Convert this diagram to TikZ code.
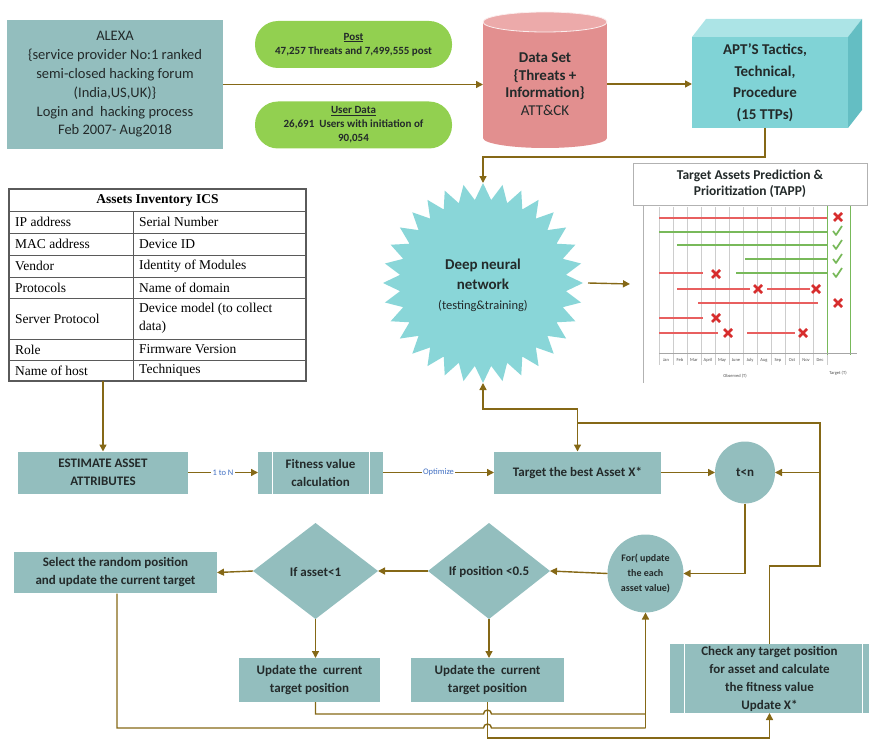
\documentclass[tikz,border=0pt]{standalone}
\usepackage{fontspec}
\setmainfont{Carlito}
\newfontfamily\tabfont{Liberation Serif}
\usetikzlibrary{arrows.meta,shapes.geometric}
\definecolor{procfill}{RGB}{147,190,190}
\definecolor{linecol}{RGB}{133,104,22}
\definecolor{pillgreen}{RGB}{146,208,80}
\definecolor{cylpink}{RGB}{226,143,143}
\definecolor{cyltop}{RGB}{236,170,170}
\definecolor{cubefront}{RGB}{128,211,214}
\definecolor{cubetop}{RGB}{172,228,230}
\definecolor{cubeside}{RGB}{100,190,195}
\definecolor{burstcol}{RGB}{137,214,216}
\definecolor{txt}{RGB}{35,42,42}
\definecolor{lblblue}{RGB}{68,114,196}
\definecolor{segred}{RGB}{232,95,95}
\definecolor{crossred}{RGB}{215,45,45}
\definecolor{seggreen}{RGB}{120,185,90}
\definecolor{gridgray}{RGB}{205,205,205}
\definecolor{tabline}{RGB}{90,90,90}
\tikzset{
  xm/.pic={\draw[draw=crossred,line width=2.6pt] (-4,-4) -- (4,4) (-4,4) -- (4,-4);},
  ck/.pic={\draw[draw=seggreen,line width=1.7pt,line join=round] (-4,0) -- (-1,4) -- (5,-5);}
}
\begin{document}
\begin{tikzpicture}[x=1pt,y=-1pt,
  conn/.style={draw=linecol,line width=1.4pt,-{Triangle[length=7pt,width=7pt]}},
  wire/.style={draw=linecol,line width=1.4pt},
  proc/.style={fill=procfill,text=txt,font=\bfseries\fontsize{13}{18}\selectfont,align=center,inner sep=0pt,outer sep=0pt},
  pill/.style={fill=pillgreen,rounded corners=23pt,text=txt,align=center,inner sep=0pt,outer sep=0pt,font=\bfseries\fontsize{11}{14}\selectfont},
  cell/.style={anchor=west,inner sep=0pt,text=black,font=\tabfont\fontsize{13.5}{18}\selectfont},
  lbl/.style={fill=white,text=lblblue,inner sep=1.5pt,font=\fontsize{8.5}{10}\selectfont},
  redseg/.style={draw=segred,line width=1.3pt},
  greenseg/.style={draw=seggreen,line width=1.1pt},
  tiny/.style={inner sep=0pt,text=black!70,font=\fontsize{4.5}{5}\selectfont}
]
\useasboundingbox (0,0) rectangle (870,741);

% ---------- top row ----------
\node[fill=procfill,text=txt,align=center,inner sep=0pt,outer sep=0pt,
      minimum width=216pt,minimum height=129pt,font=\fontsize{14.5}{18.8}\selectfont]
  (alexa) at (115,84.5) {ALEXA\\\{service provider No:1 ranked\\semi-closed hacking forum\\(India,US,UK)\}\\Login and~ hacking process\\Feb 2007- Aug2018};

\node[pill,minimum width=197pt,minimum height=47pt] (post) at (353.5,44.5)
  {\underline{Post}\\47,257 Threats and 7,499,555 post};
\node[pill,minimum width=197pt,minimum height=47pt] (udata) at (353.5,125)
  {\underline{User Data}\\26,691~ Users with initiation of\\90,054};

% cylinder
\fill[cylpink] (483,22) rectangle (607,138);
\fill[cylpink] (545,138) ellipse[x radius=62pt,y radius=10pt];
\fill[cyltop,draw=white!85!cylpink,line width=0.8pt] (545,22) ellipse[x radius=62pt,y radius=10pt];
\node[text=txt,align=center,inner sep=0pt,outer sep=0pt,minimum width=124pt,minimum height=110pt,
      font=\fontsize{15}{17.5}\selectfont] (ds) at (545,84)
  {\textbf{Data Set}\\\textbf{\{Threats +}\\\textbf{Information\}}\\ATT\&CK};

% cube
\fill[cubetop] (692,37) -- (706,19) -- (862,19) -- (848,37) -- cycle;
\fill[cubeside] (848,37) -- (862,19) -- (862,110) -- (848,128) -- cycle;
\fill[cubefront] (692,37) rectangle (848,128);
\node[text=txt,align=center,inner sep=0pt,outer sep=0pt,minimum width=146pt,minimum height=91pt,
      font=\bfseries\fontsize{15}{21.5}\selectfont] (ttp) at (765,82.5)
  {APT’S Tactics,\\Technical,\\Procedure\\(15 TTPs)};

\draw[conn] (alexa.east) -- (alexa.east -| ds.west);
\draw[conn] (ds.east) -- (ds.east -| ttp.west);

% ---------- starburst ----------
\node[star,star points=32,star point ratio=1.2,minimum size=200pt,fill=burstcol,inner sep=0pt,outer sep=0pt]
  (burst) at (483,283) {};
\node[text=txt,align=center,inner sep=0pt,font=\bfseries\fontsize{15}{20}\selectfont] (bursttext) at (483,285)
  {Deep neural\\network\\{\mdseries\fontsize{12.5}{20}\selectfont(testing\&training)}};
\draw[conn] (ttp.south) -- ++(0,29) -| (burst.north);

% ---------- TAPP chart ----------
\node[minimum width=240pt,minimum height=240pt,inner sep=0pt,outer sep=0pt] (tapp) at (750,284) {};
\draw[conn] ([xshift=5pt]burst.east) -- (tapp.west);
\draw[gray!60,line width=0.6pt] (643,383) -- (643,193) -- (860,193);
\foreach \k in {0,...,12} \draw[gridgray,line width=0.5pt] ({659+14*\k},207) -- ({659+14*\k},365);
\draw[seggreen,line width=1pt] (827,205) -- (827,355);
\draw[seggreen,line width=1pt] (850,205) -- (850,355);
\draw[gray!70,line width=0.6pt] (659,353) -- (857,353);
\draw[gray!60,line width=0.5pt] (663,205) .. controls (665,196) and (673,196) .. (675,205);
\draw[gray!60,line width=0.5pt] (824,205) .. controls (826,196) and (834,196) .. (836,205);
\foreach \m [count=\i from 0] in {Jan,Feb,Mar,April,May,June,July,Aug,Sep,Oct,Nov,Dec}
  \node[tiny] (mon\i) at ({666+14*\i},360) {\m};
\node[tiny] (obs) at (735,376) {Observed (T)};
\node[tiny] (tgtT) at (838,373) {Target (T)};
% rows
\draw[redseg] (659,218) -- (827,218);   \pic at (838,217) {xm};
\draw[greenseg] (659,232) -- (827,232); \pic at (837,231) {ck};
\draw[greenseg] (677,245) -- (827,245); \pic at (837,245) {ck};
\draw[greenseg] (745,259) -- (827,259); \pic at (837,259) {ck};
\draw[redseg] (659,273) -- (703,273);   \pic at (716,274) {xm};
\draw[greenseg] (736,273) -- (827,273); \pic at (837,273) {ck};
\draw[redseg] (677,289) -- (750,289);   \pic at (758,289) {xm};
\draw[redseg] (767,289) -- (810,289);   \pic at (816,289) {xm};
\draw[redseg] (698,303) -- (818,303);   \pic at (838,303) {xm};
\draw[redseg] (659,318) -- (703,318);   \pic at (716,318) {xm};
\draw[redseg] (659,333) -- (718,333);   \pic at (728,333) {xm};
\draw[redseg] (747,333) -- (795,333);   \pic at (803,333) {xm};
\node[draw=gray!60,fill=white,line width=0.8pt,minimum width=234pt,minimum height=42pt,inner sep=0pt,
      align=center,text=txt,font=\bfseries\fontsize{13.5}{16}\selectfont] (tappt) at (750,184)
  {Target Assets Prediction \&\\Prioritization (TAPP)};

% ---------- table ----------
\node[draw=tabline,line width=1.2pt,minimum width=297pt,minimum height=192pt,inner sep=0pt,outer sep=0pt]
  (inv) at (157.5,285) {};
\foreach \yy in {211,233,255,277,298,339,360} \draw[tabline,line width=1pt] (9,\yy) -- (306,\yy);
\draw[tabline,line width=1pt] (133,211) -- (133,381);
\node[inner sep=0pt,font=\tabfont\bfseries\fontsize{13.5}{16}\selectfont] (thead) at (157.5,200) {Assets Inventory ICS};
\foreach \yy/\l/\r [count=\i] in {222/IP address/Serial Number,244/MAC address/Device ID,266/Vendor/Identity of Modules,287.5/Protocols/Name of domain,349.5/Role/Firmware Version,370.5/Name of host/Techniques}{
  \node[cell] (cl\i) at (15,\yy) {\l};
  \node[cell] (cr\i) at (139,\yy) {\r};
}
\node[cell] (clsp) at (15,318.5) {Server Protocol};
\node[cell,align=left] (crsp) at (139,318.5) {Device model (to collect\\data)};

% ---------- process row ----------
\node[proc,minimum width=170pt,minimum height=42pt] (est) at (103,472.5) {ESTIMATE ASSET\\ATTRIBUTES};
\node[proc,minimum width=125pt,minimum height=42pt] (fit) at (320.5,472.5) {Fitness value\\calculation};
\draw[white,line width=0.8pt] (272,451.5) -- (272,493.5) (369,451.5) -- (369,493.5);
\node[proc,minimum width=167pt,minimum height=42pt] (tgt) at (577.5,472.5) {Target the best Asset X*};
\node[proc,ellipse,minimum width=60pt,minimum height=62pt] (tn) at (745,472.5) {t<n};

\draw[conn] (inv.south -| est.north) -- (est.north);
\draw[conn] (est.east) -- node[lbl] (lbl1) {1 to N} (fit.west);
\draw[conn] (fit.east) -- node[lbl] (lbl2) {Optimize} (tgt.west);
\draw[conn] (tgt.east) -- (tn.west);

% ---------- decision row ----------
\node[proc,ellipse,minimum width=76pt,minimum height=78pt] (forc) at (645.5,573.5) {};
\node[inner sep=0pt,align=center,text=txt,font=\bfseries\fontsize{10}{15}\selectfont] (forct) at (645.5,573.5)
  {For( update\\the each\\asset value)};
\node[diamond,fill=procfill,minimum width=122pt,minimum height=96pt,inner sep=0pt,outer sep=0pt] (dia2) at (489,571) {};
\node[inner sep=0pt,text=txt,font=\bfseries\fontsize{13}{16}\selectfont] (dia2t) at (489,572) {If position <0.5};
\node[diamond,fill=procfill,minimum width=125pt,minimum height=96pt,inner sep=0pt,outer sep=0pt] (dia1) at (315.5,571) {};
\node[inner sep=0pt,text=txt,font=\bfseries\fontsize{13}{16}\selectfont] (dia1t) at (315.5,572) {If asset<1};
\node[proc,minimum width=203pt,minimum height=41pt] (sel) at (115.5,572.5)
  {Select the random position\\and update the current target};

\node[proc,minimum width=141pt,minimum height=44pt] (up1) at (309.5,680) {Update the~ current\\target position};
\node[proc,minimum width=153pt,minimum height=44pt] (up2) at (487.5,680) {Update the~ current\\target position};
\node[proc,minimum width=199pt,minimum height=69pt] (chk) at (769.5,678.5)
  {Check any target position\\for asset and calculate\\the fitness value\\Update X*};
\draw[white,line width=0.8pt] (684,644) -- (684,713) (862,644) -- (862,713);

\draw[conn] (tn.south) |- (forc.east);
\draw[conn] (forc.west) -- (dia2.east);
\draw[conn] (dia2.west) -- (dia1.east);
\draw[conn] (dia1.west) -- (sel.east);
\draw[conn] (dia1.south) -- (dia1.south |- up1.north);
\draw[conn] (dia2.south) -- (dia2.south |- up2.north);

% ---------- bottom return wires ----------
\coordinate (j1) at (645.5,714);
\coordinate (j2) at (645.5,728);
\draw[wire] (dia1.south |- up1.south) -- (315.5,714) -- (483.5,714) arc[start angle=180,end angle=0,radius=4pt] -- (j1);
\draw[wire] (117,593.5) -- (117,728) -- (483.5,728) arc[start angle=180,end angle=0,radius=4pt] -- (j2);
\draw[conn] (j2) -- (forc.south);
\draw[conn] (up2.south) -- (487.5,738) -| (chk.south);

% ---------- right loop ----------
\coordinate (r1) at (820,566);
\coordinate (r2) at (820,423);
\coordinate (rt) at (820,472.5);
\coordinate (m1) at (577.5,423);
\draw[wire] (chk.north) |- (r1) -- (r2) -- (m1);
\draw[conn] (rt) -- (tn.east);
\draw[conn] (m1) -- (tgt.north);
\draw[conn] (m1) -- (577.5,409) -| (burst.south);
\end{tikzpicture}
\end{document}
